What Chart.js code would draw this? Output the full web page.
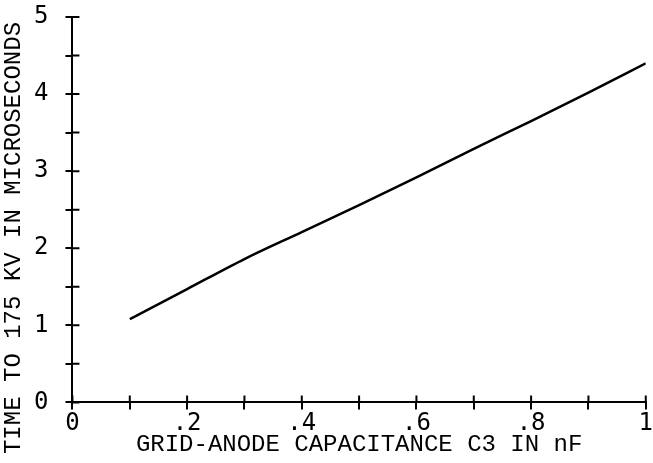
<!DOCTYPE html>
<html>
<head>
<meta charset="utf-8">
<script src="https://cdn.jsdelivr.net/npm/chart.js@4/dist/chart.umd.min.js"></script>
<style>
  html, body { margin: 0; padding: 0; background: #fff; }
  #wrap { width: 653px; height: 463px; }
</style>
</head>
<body>
<div id="wrap"><canvas id="grafica"></canvas></div>
<script>
// capacitancia C3 (nF) y tiempo hasta 175 kV (us)
const capacitance = [0.1, 0.2, 0.3, 0.4, 0.5, 0.6, 0.7, 0.8, 0.9, 1.0];
const riseTime = [1.08, 1.47, 1.86, 2.21, 2.56, 2.92, 3.29, 3.65, 4.02, 4.40];
// etiquetas de los ejes (una por cada tick mayor)
const xLabels = ["0", ".2", ".4", ".6", ".8", "1"];
const yLabels = ["0", "1", "2", "3", "4", "5"];
const yTitle = "TIME TO 175 KV IN MICROSECONDS";

const FONT = "'Liberation Mono', 'DejaVu Sans Mono', monospace";
const TICK_FONT = "'DejaVu Sans Mono', 'Liberation Mono', monospace";

// ticks cruzados: el plotter dibuja la marca a ambos lados del eje
const crossTicks = {
  id: "crossTicks",
  afterDraw(chart) {
    const ctx = chart.ctx;
    const { x, y } = chart.scales;
    const area = chart.chartArea;
    ctx.save();
    ctx.strokeStyle = "#000";
    ctx.lineWidth = 2;
    ctx.beginPath();
    x.ticks.forEach(t => {
      const px = x.getPixelForValue(t.value);
      ctx.moveTo(px, area.bottom);
      ctx.lineTo(px, area.bottom - 7);
    });
    y.ticks.forEach(t => {
      const py = y.getPixelForValue(t.value);
      ctx.moveTo(area.left, py);
      ctx.lineTo(area.left + 7, py);
    });
    ctx.stroke();
    // titulo del eje Y, algo desplazado hacia abajo como en el original
    ctx.translate(14, 238);
    ctx.rotate(-Math.PI / 2);
    ctx.fillStyle = "#000";
    ctx.font = "24px " + FONT;
    ctx.textAlign = "center";
    ctx.textBaseline = "middle";
    ctx.fillText(yTitle, 0, 0);
    ctx.restore();
  }
};

const ctx = document.getElementById("grafica").getContext("2d");
new Chart(ctx, {
  type: "line",
  data: {
    datasets: [
      {
        data: capacitance.map((c, i) => ({ x: c, y: riseTime[i] })),
        borderColor: "#000",
        borderWidth: 2.5,
        pointRadius: 0,
        fill: false,
        cubicInterpolationMode: "monotone",
      },
    ],
  },
  options: {
    responsive: true,
    maintainAspectRatio: false,
    animation: false,
    layout: { padding: { top: 0, right: 0, left: 17, bottom: 4 } },
    plugins: { legend: { display: false }, tooltip: { enabled: false } },
    scales: {
      x: {
        type: "linear",
        min: 0,
        max: 1,
        grid: { drawOnChartArea: false, color: "#000", lineWidth: 2, tickLength: 7 },
        border: { color: "#000", width: 2 },
        ticks: {
          stepSize: 0.1,
          autoSkip: false,
          maxRotation: 0,
          padding: 0,
          color: "#000",
          font: { family: TICK_FONT, size: 24 },
          callback: (v, i) => (i % 2 === 0 ? xLabels[i / 2] : ""),
        },
        title: {
          display: true,
          text: "GRID-ANODE CAPACITANCE C3 IN nF",
          color: "#000",
          font: { family: FONT, size: 24 },
          padding: { top: -8, bottom: 0 },
        },
      },
      y: {
        min: 0,
        max: 5,
        afterFit: (s) => { s.paddingTop = 17; },
        grid: { drawOnChartArea: false, color: "#000", lineWidth: 2, tickLength: 7 },
        border: { color: "#000", width: 2 },
        ticks: {
          stepSize: 0.5,
          autoSkip: false,
          padding: 17,
          color: "#000",
          font: { family: TICK_FONT, size: 24 },
          callback: (v, i) => (i % 2 === 0 ? yLabels[i / 2] : ""),
        },
      },
    },
  },
  plugins: [crossTicks],
});
</script>
</body>
</html>
